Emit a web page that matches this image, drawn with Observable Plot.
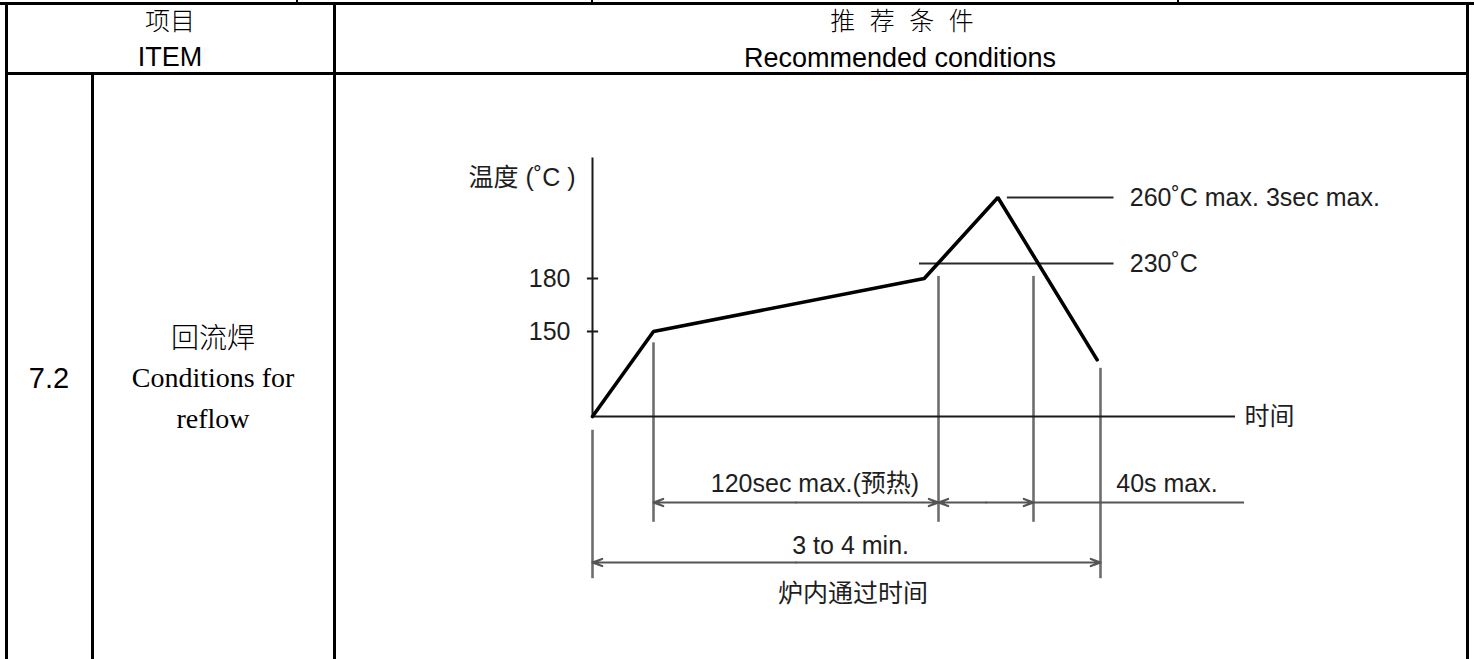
<!DOCTYPE html>
<html><head><meta charset="utf-8">
<script src="https://cdn.jsdelivr.net/npm/d3@7"></script>
<script src="https://cdn.jsdelivr.net/npm/@observablehq/plot@0.6"></script>
<style>
html,body{margin:0;padding:0;background:#fff;}
#page{position:relative;width:1474px;height:659px;overflow:hidden;background:#fff;}
.b{position:absolute;background:#000;z-index:2;}
.t{position:absolute;transform:translate(-50%,-50%);line-height:1;white-space:nowrap;color:#000;z-index:2;}
#chart{position:absolute;left:336px;top:75px;z-index:1;}
</style></head>
<body><div id="page"><div id="chart"></div></div>
<script>
// ---------- table texts ----------
const headerItem = ["项目", "ITEM"];
const headerCond = ["推 荐 条 件", "Recommended conditions"];
const rowNo = "7.2";
const rowItem = ["回流焊", "Conditions for", "reflow"];

// ---------- reflow profile (schematic) ----------
const profileTime = [0, 60, 174, 205, 239];      // s
const profileTemp = [0, 150, 180, 260, 100];     // °C
const tempTicks = [150, 180];
const refTemps = [230, 260];
const refFrom = [172, 209];
const refTo = [246, 246];
const refLabels = ["230˚C", "260˚C max. 3sec max."];
// key times: ramp 60s, preheat 120s, above 230 for 40s, end 4 min
const keyTimes = [0, 60, 180, 220, 240, 300];
const keyTemps = [-2, -1, 0, 150, 180, 230, 260]; // -1, -2: dimension rows below time axis
// extension lines (time, from level, to level)
const extTime = [0, 60, 180, 220, 240];
const extTop = [-0.16, 130, 187, 187, 85];
const extBottom = [-2.27, -1.33, -1.33, -1.33, -2.27];
// dimension spans
const dimStart = [60, 180, 0];
const dimEnd = [180, 220, 240];
const dimRow = [-1, -1, -2];
const dimLabels = ["120sec max.(预热)", "40s max.", "3 to 4 min.", "炉内通过时间"];
const dimLabelTime = [128, 247, 143, 144];
const dimLabelRow = [-0.78, -0.78, -1.72, -2.52];
const dimLabelAnchor = ["middle", "start", "middle", "middle"];
const axisLabels = ["温度 (˚C )", "时间"];

// ---------- layout ----------
const page = document.getElementById("page");
function box(l, t, w, h) {
  const d = document.createElement("div");
  d.className = "b";
  Object.assign(d.style, {left: l + "px", top: t + "px", width: w + "px", height: h + "px"});
  page.appendChild(d);
}
function txt(s, cx, cy, font, size, extra) {
  const d = document.createElement("div");
  d.className = "t";
  d.textContent = s;
  Object.assign(d.style, {left: cx + "px", top: cy + "px", fontFamily: font, fontSize: size + "px"}, extra || {});
  page.appendChild(d);
}
box(0, 2, 1474, 3);
[296, 591, 1177].forEach(x => box(x, 0, 2, 3));
box(5, 2, 3, 657);
box(333, 2, 3, 657);
box(1466, 2, 3, 657);
box(91, 73, 3, 586);
box(5, 72, 1464, 3);

const CJK = "'Noto Sans CJK SC', sans-serif";
const SANS = "'Liberation Sans', Arial, sans-serif";
const SERIF = "'Liberation Serif', 'Times New Roman', serif";
txt(headerItem[0], 170, 19, CJK, 25, {fontWeight: 300});
txt(headerItem[1], 170, 57, SANS, 27);
txt(headerCond[0], 902, 19, CJK, 25, {fontWeight: 300, wordSpacing: "9px"});
txt(headerCond[1], 900, 58, SANS, 27);
txt(rowNo, 49, 378, SANS, 29);
txt(rowItem[0], 213, 336, CJK, 28, {fontWeight: 300});
txt(rowItem[1], 213, 378, SERIF, 28);
txt(rowItem[2], 213, 419, SERIF, 28);

// ---------- chart ----------
const OX = 336, OY = 75;
const W = 1474 - OX, H = 659 - OY;
const profile = profileTime.map((t, i) => ({t, temp: profileTemp[i]}));
const refs = refTemps.map((v, i) => ({temp: v, from: refFrom[i], to: refTo[i], label: refLabels[i]}));
const ext = extTime.map((t, i) => ({t, top: extTop[i], bottom: extBottom[i]}));
const arrows = [];
dimStart.forEach((a, i) => {
  const b = dimEnd[i], m = (a + b) / 2;
  arrows.push({x1: m, x2: a, row: dimRow[i]}, {x1: m, x2: b, row: dimRow[i]});
});
const dimText = dimLabels.map((s, i) => ({s, t: dimLabelTime[i], row: dimLabelRow[i], anchor: dimLabelAnchor[i]}));
const FONT = "'Liberation Sans', 'Noto Sans CJK SC', Arial, sans-serif";
const TXT = "#1e1e1e";

const chart = Plot.plot({
  width: W, height: H,
  margin: 0,
  x: {type: "linear", domain: keyTimes, range: [592, 653, 938, 1033, 1100, 1235].map(v => v - OX), axis: null},
  y: {type: "linear", domain: keyTemps, range: [562, 502, 416, 331, 278, 263, 197].map(v => v - OY), axis: null},
  style: {fontFamily: FONT, fontSize: "25px", color: TXT, background: "transparent", overflow: "visible"},
  marks: [
    // extension lines
    Plot.ruleX(ext, {x: "t", y1: "top", y2: "bottom", stroke: "#6e6e6e", strokeWidth: 2.6}),
    // dimension lines
    Plot.arrow(arrows, {x1: "x1", x2: "x2", y1: "row", y2: "row", stroke: "#555", strokeWidth: 2.2, headLength: 7, headAngle: 40}),
    Plot.ruleY([-1], {x1: 220, x2: 304, stroke: "#555", strokeWidth: 2.2}),
    // axes
    Plot.ruleX([0], {y1: 0, y2: 278, stroke: "#1a1a1a", strokeWidth: 2}),
    Plot.ruleY([0], {x1: 0, x2: 300, stroke: "#1a1a1a", strokeWidth: 2}),
    Plot.ruleY(tempTicks, {y: d => d, x1: -5, x2: 6, stroke: "#1a1a1a", strokeWidth: 2}),
    Plot.text(tempTicks, {x: 0, y: d => d, text: d => String(d), textAnchor: "end", dx: -22, fill: TXT}),
    Plot.text([axisLabels[0]], {x: 0, y: 269, text: d => d, textAnchor: "end", dx: -17, fill: TXT}),
    Plot.text([axisLabels[1]], {x: 300, y: 0, text: d => d, textAnchor: "start", dx: 9, fill: TXT}),
    // reference levels
    Plot.ruleY(refs, {y: "temp", x1: "from", x2: "to", stroke: "#2a2a2a", strokeWidth: 1.8}),
    Plot.text(refs, {x: 253, y: "temp", text: "label", textAnchor: "start", fill: TXT}),
    // profile
    Plot.line(profile, {x: "t", y: "temp", stroke: "#000", strokeWidth: 3.6, strokeLinejoin: "miter"}),
    // dimension labels
    Plot.text(dimText.filter(d => d.anchor === "middle"), {x: "t", y: "row", text: "s", textAnchor: "middle", fill: TXT}),
    Plot.text(dimText.filter(d => d.anchor === "start"), {x: "t", y: "row", text: "s", textAnchor: "start", fill: TXT})
  ]
});
document.getElementById("chart").appendChild(chart);
</script>
</body></html>
